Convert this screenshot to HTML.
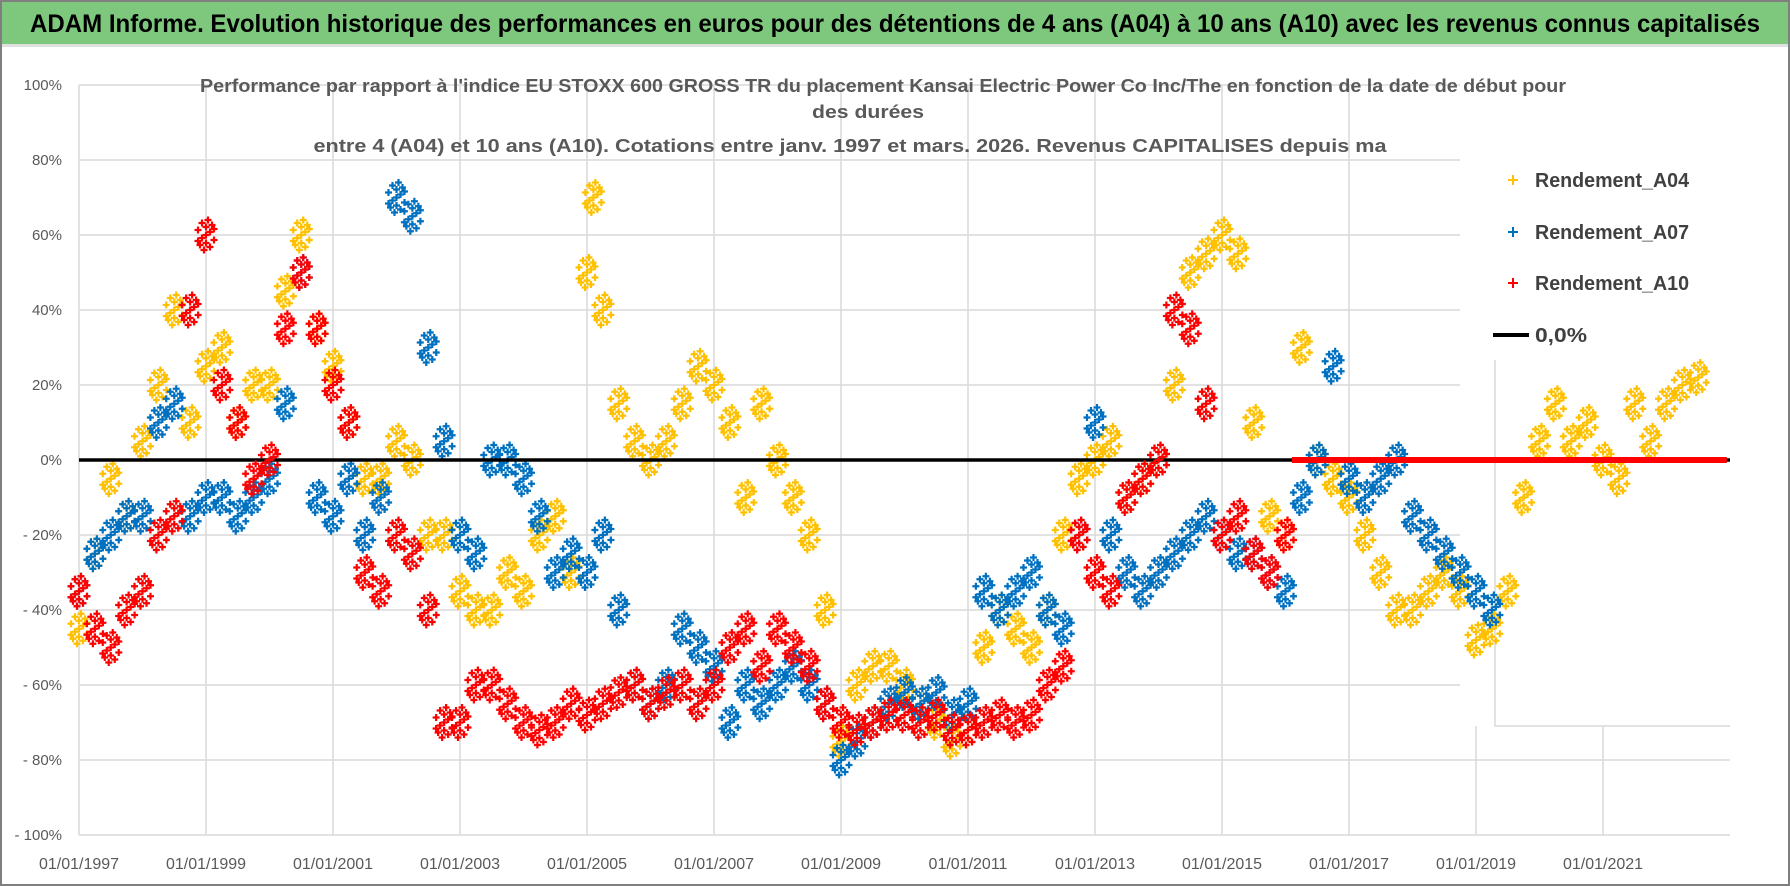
<!DOCTYPE html>
<html><head><meta charset="utf-8"><style>
html,body{margin:0;padding:0;background:#fff;}
svg{display:block;font-family:"Liberation Sans",sans-serif;}
</style></head><body>
<svg id="chart" width="1790" height="886" viewBox="0 0 1790 886">
<rect x="1" y="1" width="1788" height="884" fill="#fff" stroke="#7f7f7f" stroke-width="2"/>
<rect x="2" y="2" width="1786" height="42" fill="#7ec87e"/>
<text x="895" y="32" text-anchor="middle" font-size="25" font-weight="bold" fill="#000" textLength="1730" lengthAdjust="spacingAndGlyphs">ADAM Informe. Evolution historique des performances en euros pour des détentions de 4 ans (A04) à 10 ans (A10) avec les revenus connus capitalisés</text>
<rect x="2" y="44" width="1786" height="3" fill="#e0e0e0"/>
<g id="grid"></g>
<g id="yticks"></g>
<g id="xticks"></g>
<g id="series"></g>
<g font-weight="bold" fill="#595959" font-size="18">
<text x="883" y="92" text-anchor="middle" textLength="1366" lengthAdjust="spacingAndGlyphs">Performance par rapport à l'indice EU STOXX 600 GROSS TR  du placement Kansai Electric Power Co Inc/The en fonction de la date de début pour</text>
<text x="868" y="118" text-anchor="middle" textLength="112" lengthAdjust="spacingAndGlyphs">des durées</text>
<text x="850" y="152" text-anchor="middle" textLength="1073" lengthAdjust="spacingAndGlyphs">entre 4 (A04) et 10 ans (A10).  Cotations entre janv. 1997 et mars. 2026. Revenus CAPITALISES depuis ma</text>
</g>
<g id="legend" font-size="20" font-weight="bold" fill="#404040">
<g><path d="M1508 180h10M1513 175v10" stroke="#ffc000" stroke-width="2"/><text x="1535" y="187" textLength="154" lengthAdjust="spacingAndGlyphs">Rendement_A04</text></g>
<g><path d="M1508 232h10M1513 227v10" stroke="#0070c0" stroke-width="2"/><text x="1535" y="239" textLength="154" lengthAdjust="spacingAndGlyphs">Rendement_A07</text></g>
<g><path d="M1508 283h10M1513 278v10" stroke="#ff0000" stroke-width="2"/><text x="1535" y="290" textLength="154" lengthAdjust="spacingAndGlyphs">Rendement_A10</text></g>
<g><path d="M1493 335h36" stroke="#000" stroke-width="4"/><text x="1535" y="342" textLength="52" lengthAdjust="spacingAndGlyphs">0,0%</text></g>
</g>
</svg>
<script>
const yTicks=[100,80,60,40,20,0,-20,-40,-60,-80,-100];
const xTickYears=[1997,1999,2001,2003,2005,2007,2009,2011,2013,2015,2017,2019,2021];
const datesA04=[1997,1997.25,1997.5,1997.75,1998,1998.25,1998.5,1998.75,1999,1999.25,1999.5,1999.75,2000,2000.25,2000.5,2000.75,2001,2001.25,2001.5,2001.75,2002,2002.25,2002.5,2002.75,2003,2003.25,2003.5,2003.75,2004,2004.25,2004.5,2004.75,2005,2005.1,2005.25,2005.5,2005.75,2006,2006.25,2006.5,2006.75,2007,2007.25,2007.5,2007.75,2008,2008.25,2008.5,2008.75,2009,2009.25,2009.5,2009.75,2010,2010.25,2010.5,2010.75,2011,2011.25,2011.5,2011.75,2012,2012.25,2012.5,2012.75,2013,2013.25,2013.5,2013.75,2014,2014.25,2014.5,2014.75,2015,2015.25,2015.5,2015.75,2016,2016.25,2016.5,2016.75,2017,2017.25,2017.5,2017.75,2018,2018.25,2018.5,2018.75,2019,2019.25,2019.5,2019.75,2020,2020.25,2020.5,2020.75,2021,2021.25,2021.5,2021.75,2022,2022.25,2022.5];
const valuesA04=[-45,-25,-5,-15,5,20,40,10,25,30,10,20,20,45,60,35,25,10,-5,-5,5,0,-20,-20,-35,-40,-40,-30,-35,-20,-15,-30,50,70,40,15,5,0,5,15,25,20,10,-10,15,0,-10,-20,-40,-75,-60,-55,-55,-60,-65,-70,-75,-72,-50,-40,-45,-50,-40,-20,-5,0,5,-10,-5,0,20,50,55,60,55,10,-15,-20,30,0,-5,-10,-20,-30,-40,-40,-35,-30,-35,-48,-45,-35,-10,5,15,5,10,0,-5,15,5,15,20,22];
const datesA07=[1997,1997.25,1997.5,1997.75,1998,1998.25,1998.5,1998.75,1999,1999.25,1999.5,1999.75,2000,2000.25,2000.5,2000.75,2001,2001.25,2001.5,2001.75,2002,2002.25,2002.5,2002.75,2003,2003.25,2003.5,2003.75,2004,2004.25,2004.5,2004.75,2005,2005.25,2005.5,2005.75,2006,2006.25,2006.5,2006.75,2007,2007.25,2007.5,2007.75,2008,2008.25,2008.5,2008.75,2009,2009.25,2009.5,2009.75,2010,2010.25,2010.5,2010.75,2011,2011.25,2011.5,2011.75,2012,2012.25,2012.5,2012.75,2013,2013.25,2013.5,2013.75,2014,2014.25,2014.5,2014.75,2015,2015.25,2015.5,2015.75,2016,2016.25,2016.5,2016.75,2017,2017.25,2017.5,2017.75,2018,2018.25,2018.5,2018.75,2019,2019.25];
const valuesA07=[-35,-25,-20,-15,-15,10,15,-15,-10,-10,-15,-10,-5,15,50,-10,-15,-5,-20,-10,70,65,30,5,-20,-25,0,0,-5,-15,-30,-25,-30,-20,-40,-60,-65,-60,-45,-50,-55,-70,-60,-65,-60,-55,-60,-65,-80,-75,-70,-65,-62,-65,-62,-68,-65,-35,-40,-35,-30,-40,-45,-20,10,-20,-30,-35,-30,-25,-20,-15,-20,-25,-25,-30,-35,-10,0,25,-5,-10,-5,0,-15,-20,-25,-30,-35,-40];
const datesA10=[1997,1997.25,1997.5,1997.75,1998,1998.25,1998.5,1998.75,1999,1999.25,1999.5,1999.75,2000,2000.25,2000.5,2000.75,2001,2001.25,2001.5,2001.75,2002,2002.25,2002.5,2002.75,2003,2003.25,2003.5,2003.75,2004,2004.25,2004.5,2004.75,2005,2005.25,2005.5,2005.75,2006,2006.25,2006.5,2006.75,2007,2007.25,2007.5,2007.75,2008,2008.25,2008.5,2008.75,2009,2009.25,2009.5,2009.75,2010,2010.25,2010.5,2010.75,2011,2011.25,2011.5,2011.75,2012,2012.25,2012.5,2012.75,2013,2013.25,2013.5,2013.75,2014,2014.25,2014.5,2014.75,2015,2015.25,2015.5,2015.75,2016];
const valuesA10=[-35,-45,-50,-40,-35,-20,-15,40,60,20,10,-5,0,35,50,35,20,10,-30,-35,-20,-25,-40,-70,-70,-60,-60,-65,-70,-72,-70,-65,-68,-65,-62,-60,-65,-62,-60,-65,-60,-50,-45,-55,-45,-50,-55,-65,-70,-72,-70,-68,-68,-70,-68,-72,-72,-70,-68,-70,-68,-60,-55,-20,-30,-35,-10,-5,0,40,35,15,-20,-15,-25,-30,-20];
const zeroTailStart=2016.1, zeroTailEnd=2022.95, zeroTailValue=0;

const NS="http://www.w3.org/2000/svg";
const X0=79, PX_PER_YEAR=63.5, Y0=460, PX_PER_PCT=3.75, XR=1730;
function xScale(yr){return X0+(yr-1997)*PX_PER_YEAR;}
function yScale(v){return Y0-v*PX_PER_PCT;}
function mk(tag,attrs,parent){const e=document.createElementNS(NS,tag);for(const k in attrs)e.setAttribute(k,attrs[k]);parent.appendChild(e);return e;}

const grid=document.getElementById('grid');
yTicks.forEach(t=>{
  const l=mk('line',{x1:X0,x2:XR,y1:yScale(t),y2:yScale(t),stroke:'#d9d9d9','stroke-width':1.5},grid);
  
  
});
xTickYears.forEach(t=>{
  const l=mk('line',{x1:xScale(t),x2:xScale(t),y1:yScale(100),y2:yScale(-100),stroke:'#d9d9d9','stroke-width':1.5},grid);
  
  
});
const cover=mk('rect',{x:1460,y:yScale(100)-2,width:XR-1460+2,height:726-yScale(100)+2,fill:'#fff'},grid);


const lb=mk('path',{d:'M1495 360V726H1730',stroke:'#d9d9d9','stroke-width':1.5,fill:'none'},grid);



const yt=document.getElementById('yticks');
yTicks.forEach(t=>{
  const tx=mk('text',{x:62,y:yScale(t)+5,'text-anchor':'end','font-size':15,fill:'#595959'},yt);
  tx.textContent=(t<0?'- '+(-t):t)+'%';
  
  
});
const xt=document.getElementById('xticks');
xTickYears.forEach(t=>{
  const tx=mk('text',{x:xScale(t),y:869,'text-anchor':'middle','font-size':16,fill:'#595959'},xt);
  tx.textContent='01/01/'+t;
  
  
});

const series=document.getElementById('series');
const offs=[[0,0],[-8,6],[8,-6],[-4,-12],[4,12],[-8,-5],[8,5],[-2,15],[2,-15],[-6,10],[6,-10],[-4,3],[4,-3],[0,8],[0,-8]];
function drawSeries(dates,vals,color,name){
  const g=mk('g',{},series);
  
  
  let d='';
  dates.forEach((dt,i)=>{
    const cx=xScale(dt), cy=yScale(vals[i]);
    offs.forEach(o=>{const x=cx+o[0],y=cy+o[1];d+=`M${x-3.5} ${y}h7M${x} ${y-3.5}v7`;});
  });
  mk('path',{d:d,stroke:color,'stroke-width':2.2,fill:'none'},g);
}
drawSeries(datesA04,valuesA04,'#ffc000','series-a04');
drawSeries(datesA07,valuesA07,'#0070c0','series-a07');
const zl=mk('line',{x1:X0,x2:XR,y1:yScale(0),y2:yScale(0),stroke:'#000','stroke-width':3.5},series);


drawSeries(datesA10,valuesA10,'#ff0000','series-a10');
const zt=mk('line',{x1:xScale(zeroTailStart),x2:xScale(zeroTailEnd),y1:yScale(zeroTailValue),y2:yScale(zeroTailValue),stroke:'#ff0000','stroke-width':6},series);


</script>
</body></html>
